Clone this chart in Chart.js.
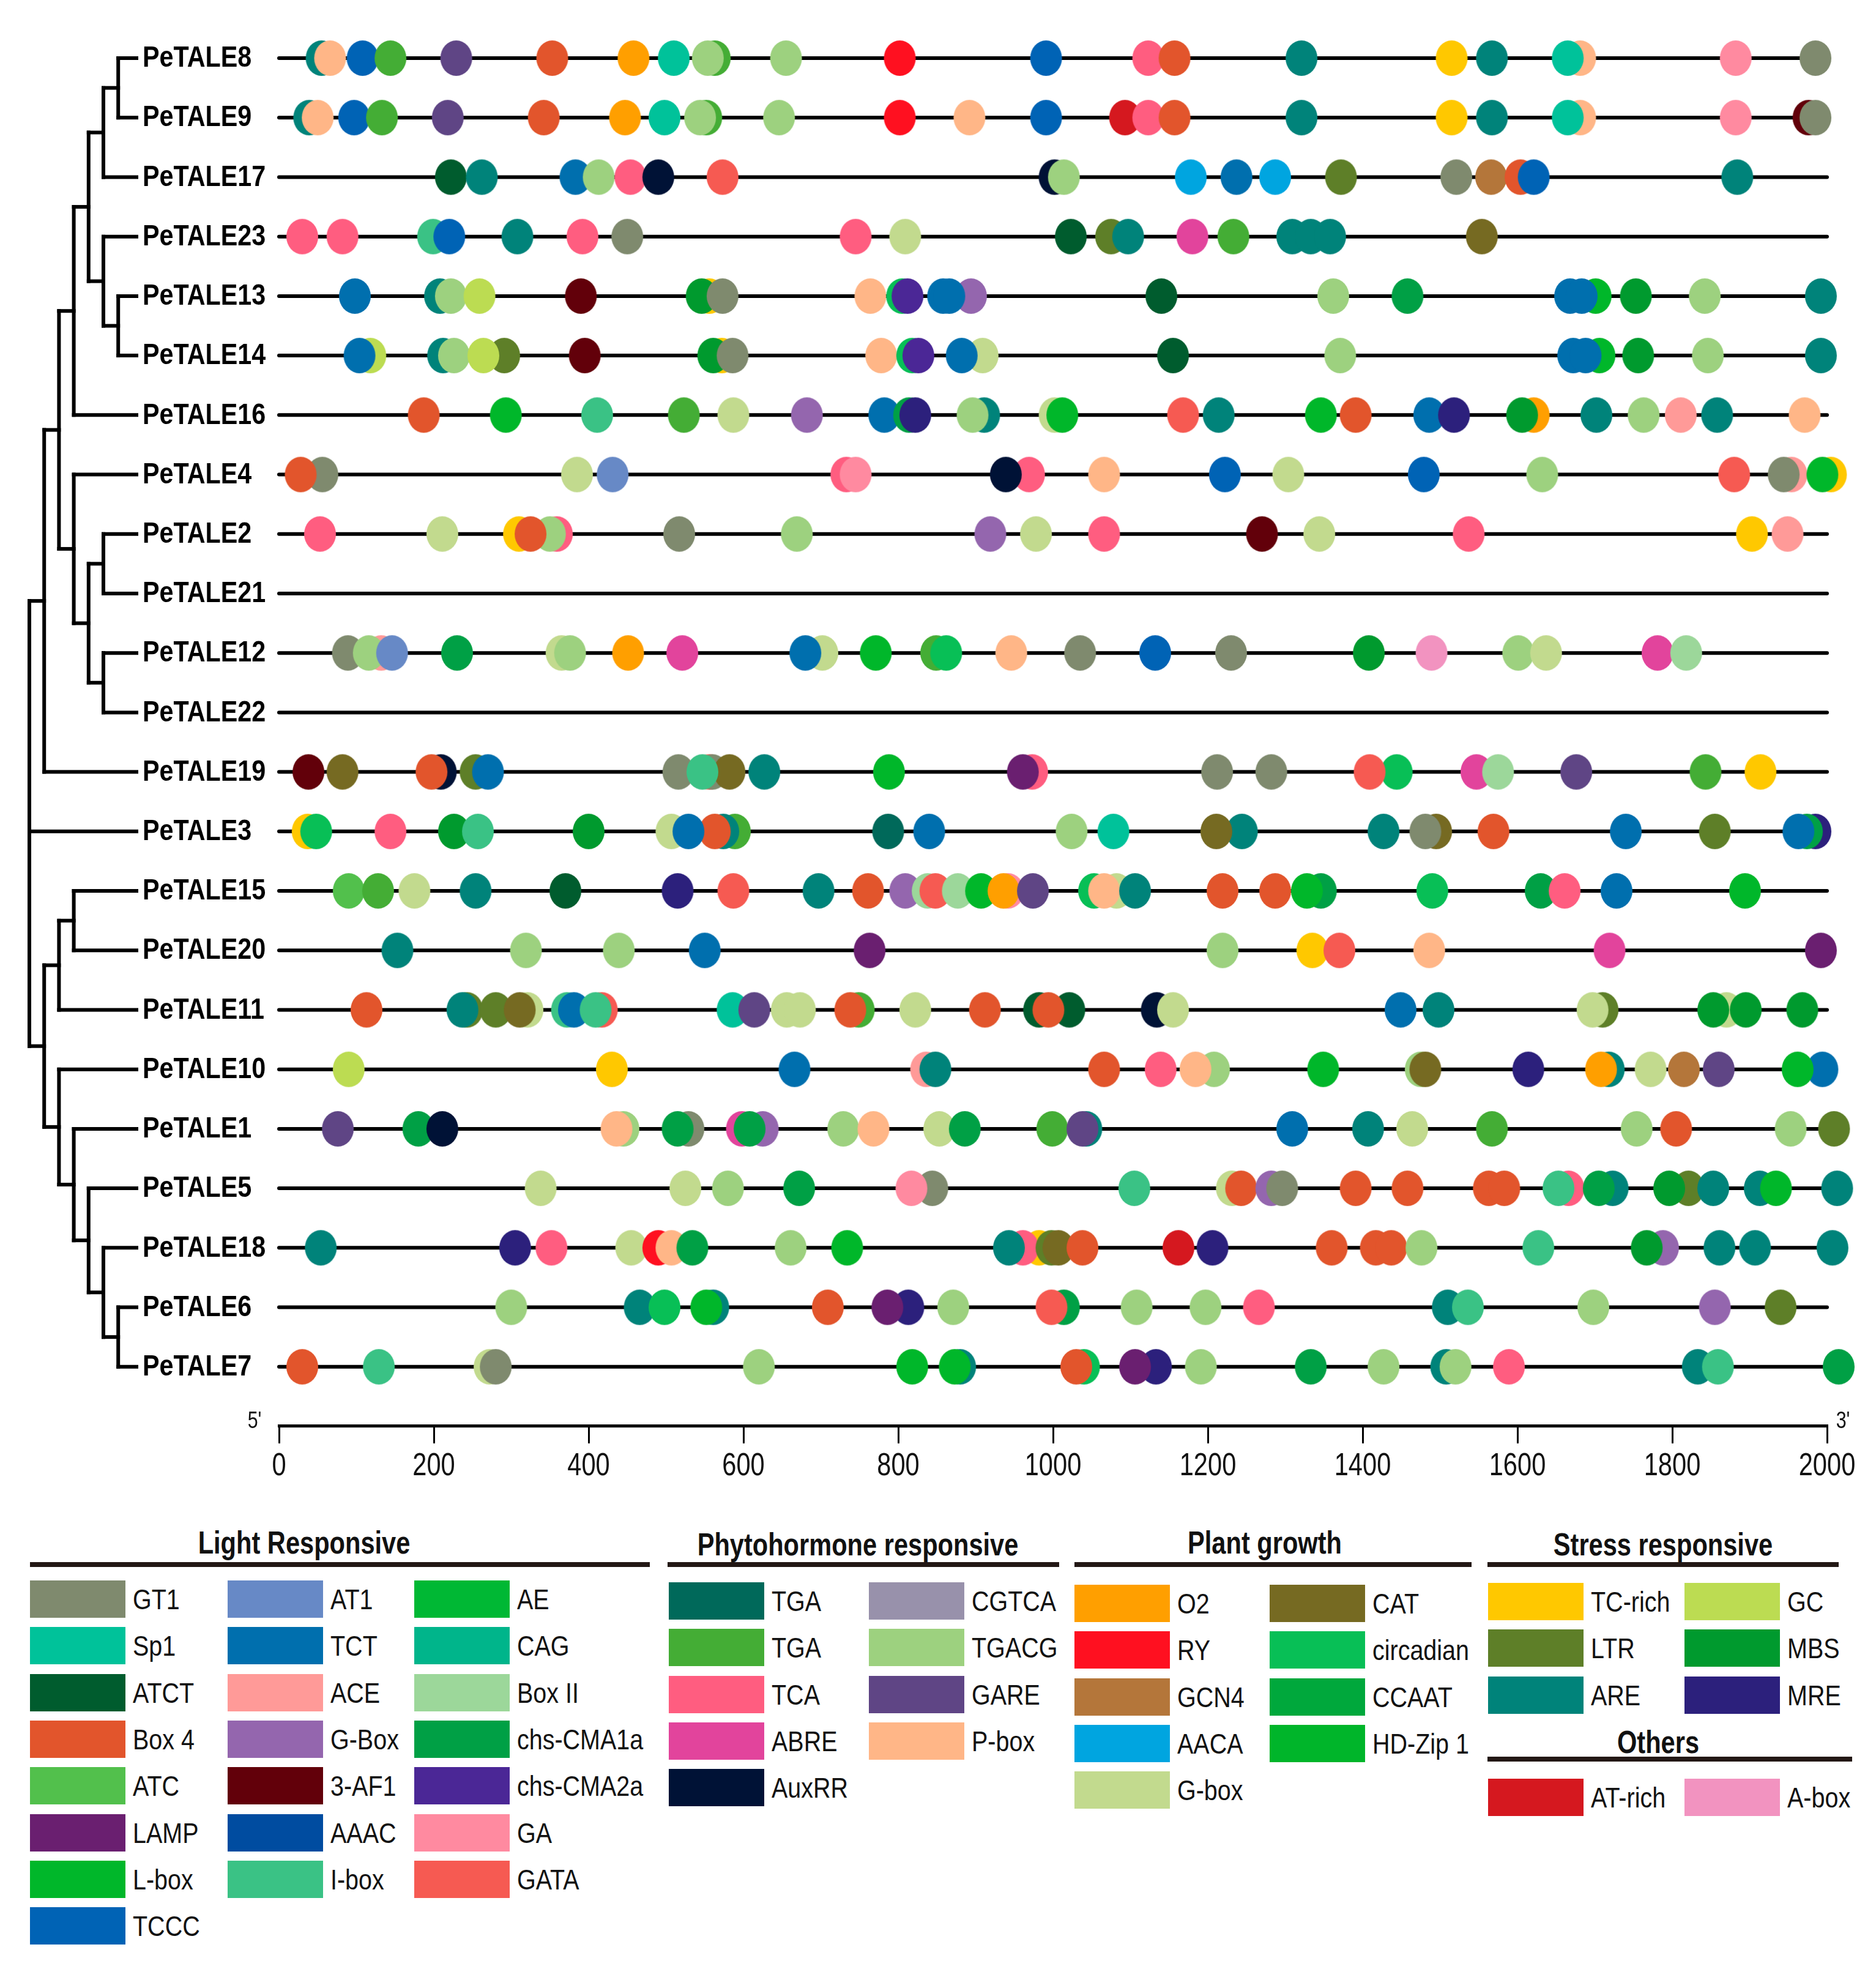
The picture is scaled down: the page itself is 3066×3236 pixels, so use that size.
<!DOCTYPE html>
<html>
<head>
<meta charset="utf-8">
<script src="https://cdn.jsdelivr.net/npm/chart.js@4.4.1/dist/chart.umd.min.js"></script>
<style>
  html, body { margin: 0; padding: 0; background: #fff; }
  #page { position: relative; width: 3066px; height: 3236px; overflow: hidden;
          font-family: "Liberation Sans", Arial, sans-serif; color: #111; }
  #c { position: absolute; left: 0; top: 0; }
  .hd { position: absolute; font-weight: bold; font-size: 52px; transform: translate(-50%, -50%) scaleX(0.8); white-space: nowrap; }
  .rule { position: absolute; height: 8px; background: #231815; }
  .sw { position: absolute; width: 156px; height: 61px; }
  .lb { position: absolute; font-size: 47px; line-height: 61px; white-space: nowrap; transform: scaleX(0.84); transform-origin: 0 50%; }
</style>
</head>
<body>
<div id="page">
  <canvas id="c" width="3066" height="2450"></canvas>
  <div id="legend"></div>
</div>
<script>
// genes, top to bottom
const geneOrder = ["PeTALE8", "PeTALE9", "PeTALE17", "PeTALE23", "PeTALE13", "PeTALE14", "PeTALE16",
  "PeTALE4", "PeTALE2", "PeTALE21", "PeTALE12", "PeTALE22", "PeTALE19", "PeTALE3", "PeTALE15",
  "PeTALE20", "PeTALE11", "PeTALE10", "PeTALE1", "PeTALE5", "PeTALE18", "PeTALE6", "PeTALE7"];

// clustering tree (nested groups of genes)
const tree = [
  [[[[[["PeTALE8", "PeTALE9"], "PeTALE17"], ["PeTALE23", ["PeTALE13", "PeTALE14"]]], "PeTALE16"],
    ["PeTALE4", [["PeTALE2", "PeTALE21"], ["PeTALE12", "PeTALE22"]]]], "PeTALE19"],
  "PeTALE3",
  [[["PeTALE15", "PeTALE20"], "PeTALE11"],
   ["PeTALE10", ["PeTALE1", ["PeTALE5", ["PeTALE18", ["PeTALE6", "PeTALE7"]]]]]]
];

// cis-element types and colours
const typeIds = ["GT1", "Sp1", "ATCT", "Box 4", "ATC", "LAMP", "L-box", "TCCC", "AT1", "TCT", "ACE", "G-Box",
  "3-AF1", "AAAC", "I-box", "AE", "CAG", "Box II", "chs-CMA1a", "chs-CMA2a", "GA", "GATA",
  "TGA", "TGA2", "TCA", "ABRE", "AuxRR", "CGTCA", "TGACG", "GARE", "P-box",
  "O2", "RY", "GCN4", "AACA", "G-box", "CAT", "circadian", "CCAAT", "HD-Zip 1",
  "TC-rich", "LTR", "ARE", "GC", "MBS", "MRE", "AT-rich", "A-box"];
const typeColors = ["#7f8a6e", "#00c29a", "#005c2e", "#e2552c", "#52c04c", "#6a1f70", "#00b72a", "#0063b5",
  "#6789c6", "#006fae", "#ff9a98", "#9466ae", "#62000a", "#004ca0", "#3ac285", "#00b834", "#00b58b",
  "#9cd79a", "#00a045", "#4b2796", "#ff8aa0", "#f65a52",
  "#00695a", "#44ad35", "#ff5d80", "#e2449c", "#001236", "#9891ab", "#9dd17f", "#5f4585", "#ffb687",
  "#ff9f00", "#ff1020", "#b4763a", "#00a5e0", "#c2da8e", "#766a22", "#08bf56", "#00a83c", "#00b52a",
  "#ffc800", "#5e7f28", "#00837a", "#bcdc52", "#009a2e", "#2c207c", "#d5181f", "#f293c0"];

// legend columns per group
const lightCols = [["GT1", "Sp1", "ATCT", "Box 4", "ATC", "LAMP", "L-box", "TCCC"],
  ["AT1", "TCT", "ACE", "G-Box", "3-AF1", "AAAC", "I-box"],
  ["AE", "CAG", "Box II", "chs-CMA1a", "chs-CMA2a", "GA", "GATA"]];
const phytoCols = [["TGA", "TGA2", "TCA", "ABRE", "AuxRR"], ["CGTCA", "TGACG", "GARE", "P-box"]];
const plantCols = [["O2", "RY", "GCN4", "AACA", "G-box"], ["CAT", "circadian", "CCAAT", "HD-Zip 1"]];
const stressCols = [["TC-rich", "LTR", "ARE"], ["GC", "MBS", "MRE"]];
const otherCols = [["AT-rich"], ["A-box"]];

// sites per gene: [position (bp), element], in drawing order
const s8 = [[55,"ARE"],[66,"P-box"],[108,"TCCC"],[144,"TGA2"],[229,"GARE"],[353,"Box 4"],[458,"O2"],[510,"Sp1"],
  [563,"TGA2"],[554,"TGACG"],[655,"TGACG"],[802,"RY"],[991,"TCCC"],[1123,"TCA"],[1157,"Box 4"],[1321,"ARE"],
  [1515,"TC-rich"],[1567,"ARE"],[1681,"P-box"],[1665,"Sp1"],[1882,"GA"],[1985,"GT1"]];
const s9 = [[39,"ARE"],[50,"P-box"],[97,"TCCC"],[133,"TGA2"],[218,"GARE"],[342,"Box 4"],[447,"O2"],[498,"Sp1"],
  [552,"TGA2"],[544,"TGACG"],[646,"TGACG"],[802,"RY"],[892,"P-box"],[991,"TCCC"],[1093,"AT-rich"],[1123,"TCA"],
  [1157,"Box 4"],[1321,"ARE"],[1515,"TC-rich"],[1567,"ARE"],[1681,"P-box"],[1665,"Sp1"],[1882,"GA"],
  [1976,"3-AF1"],[1985,"GT1"]];
const s17 = [[222,"ATCT"],[262,"ARE"],[383,"TCT"],[413,"TGACG"],[454,"TCA"],[490,"AuxRR"],[573,"GATA"],
  [1002,"AuxRR"],[1014,"TGACG"],[1178,"AACA"],[1237,"TCT"],[1287,"AACA"],[1372,"LTR"],[1521,"GT1"],
  [1566,"GCN4"],[1604,"Box 4"],[1621,"TCCC"],[1884,"ARE"]];
const s23 = [[30,"TCA"],[82,"TCA"],[199,"I-box"],[220,"TCCC"],[308,"ARE"],[392,"TCA"],[450,"GT1"],[745,"TCA"],
  [809,"G-box"],[1023,"ATCT"],[1075,"LTR"],[1097,"ARE"],[1180,"ABRE"],[1233,"TGA2"],[1309,"ARE"],[1333,"ARE"],
  [1358,"ARE"],[1554,"CAT"]];
const s13 = [[98,"TCT"],[208,"ARE"],[222,"TGACG"],[259,"GC"],[390,"3-AF1"],[556,"TC-rich"],[546,"MBS"],[573,"GT1"],
  [764,"P-box"],[805,"circadian"],[812,"chs-CMA2a"],[894,"G-Box"],[858,"TCT"],[866,"TCT"],[1140,"ATCT"],
  [1362,"TGACG"],[1458,"chs-CMA1a"],[1701,"L-box"],[1668,"TCT"],[1683,"TCT"],[1753,"MBS"],[1842,"TGACG"],
  [1992,"ARE"]];
const s14 = [[118,"GC"],[104,"TCT"],[212,"ARE"],[226,"TGACG"],[291,"LTR"],[264,"GC"],[395,"3-AF1"],[572,"TC-rich"],
  [561,"MBS"],[586,"GT1"],[778,"P-box"],[818,"circadian"],[826,"chs-CMA2a"],[909,"G-box"],[882,"TCT"],
  [1155,"ATCT"],[1371,"TGACG"],[1706,"L-box"],[1672,"TCT"],[1688,"TCT"],[1756,"MBS"],[1846,"TGACG"],[1992,"ARE"]];
const s16 = [[187,"Box 4"],[293,"L-box"],[411,"I-box"],[523,"TGA2"],[587,"G-box"],[682,"G-Box"],[782,"TCT"],
  [814,"chs-CMA1a"],[822,"MRE"],[911,"ARE"],[896,"TGACG"],[1002,"G-box"],[1012,"L-box"],[1168,"GATA"],
  [1214,"ARE"],[1346,"L-box"],[1391,"Box 4"],[1486,"TCT"],[1518,"MRE"],[1621,"O2"],[1606,"MBS"],[1702,"ARE"],
  [1763,"TGACG"],[1811,"ACE"],[1858,"ARE"],[1971,"P-box"]];
const s4 = [[56,"GT1"],[28,"Box 4"],[385,"G-box"],[431,"AT1"],[733,"TCA"],[745,"GA"],[969,"TCA"],[939,"AuxRR"],
  [1066,"P-box"],[1222,"TCCC"],[1304,"G-box"],[1479,"TCCC"],[1632,"TGACG"],[1880,"GATA"],[1954,"ACE"],
  [1944,"GT1"],[2005,"TC-rich"],[1994,"L-box"]];
const s2 = [[53,"TCA"],[211,"G-box"],[359,"TCA"],[350,"TGACG"],[310,"TC-rich"],[325,"Box 4"],[517,"GT1"],
  [669,"TGACG"],[919,"G-Box"],[978,"G-box"],[1066,"TCA"],[1270,"3-AF1"],[1344,"G-box"],[1537,"TCA"],
  [1903,"TC-rich"],[1949,"ACE"]];
const s21 = [];
const s12 = [[89,"GT1"],[132,"ACE"],[116,"TGACG"],[146,"AT1"],[230,"chs-CMA1a"],[365,"G-box"],[376,"TGACG"],
  [451,"O2"],[521,"ABRE"],[702,"G-box"],[680,"TCT"],[771,"L-box"],[849,"TGA2"],[862,"circadian"],[946,"P-box"],
  [1035,"GT1"],[1132,"TCCC"],[1230,"GT1"],[1408,"MBS"],[1489,"A-box"],[1601,"TGACG"],[1637,"G-box"],
  [1781,"ABRE"],[1818,"Box II"]];
const s22 = [];
const s19 = [[38,"3-AF1"],[82,"CAT"],[209,"AuxRR"],[197,"Box 4"],[254,"LTR"],[270,"TCT"],[516,"GT1"],[556,"GATA"],
  [560,"GT1"],[582,"CAT"],[547,"I-box"],[627,"ARE"],[788,"L-box"],[973,"TCA"],[961,"LAMP"],[1212,"GT1"],
  [1282,"GT1"],[1444,"circadian"],[1409,"GATA"],[1547,"ABRE"],[1575,"Box II"],[1676,"GARE"],[1843,"TGA2"],
  [1914,"TC-rich"]];
const s3 = [[37,"TC-rich"],[48,"circadian"],[144,"TCA"],[226,"MBS"],[257,"I-box"],[400,"MBS"],[507,"G-box"],
  [589,"TGA2"],[574,"ARE"],[563,"Box 4"],[529,"TCT"],[787,"TGA"],[840,"TCT"],[1024,"TGACG"],[1078,"Sp1"],
  [1244,"ARE"],[1211,"CAT"],[1427,"ARE"],[1495,"CAT"],[1481,"GT1"],[1569,"Box 4"],[1740,"TCT"],[1855,"LTR"],
  [1985,"MRE"],[1974,"chs-CMA1a"],[1963,"TCT"]];
const s15 = [[90,"ATC"],[128,"TGA2"],[175,"G-box"],[254,"ARE"],[370,"ATCT"],[515,"MRE"],[587,"GATA"],[697,"ARE"],
  [761,"Box 4"],[809,"G-Box"],[838,"Box II"],[848,"GATA"],[877,"Box II"],[907,"L-box"],[942,"GA"],[936,"O2"],
  [974,"GARE"],[1053,"circadian"],[1082,"G-box"],[1066,"P-box"],[1106,"ARE"],[1219,"Box 4"],[1287,"Box 4"],
  [1346,"chs-CMA1a"],[1328,"L-box"],[1490,"circadian"],[1630,"chs-CMA1a"],[1661,"TCA"],[1728,"TCT"],
  [1894,"L-box"]];
const s20 = [[153,"ARE"],[319,"TGACG"],[439,"TGACG"],[550,"TCT"],[763,"LAMP"],[1219,"TGACG"],[1335,"TC-rich"],
  [1370,"GATA"],[1486,"P-box"],[1719,"ABRE"],[1992,"LAMP"]];
const s11 = [[113,"Box 4"],[243,"LTR"],[237,"ARE"],[280,"LTR"],[321,"G-box"],[311,"CAT"],[372,"I-box"],[381,"TCT"],
  [417,"GATA"],[409,"I-box"],[586,"Sp1"],[614,"GARE"],[656,"G-box"],[673,"G-box"],[749,"TGA2"],[738,"Box 4"],
  [822,"G-box"],[912,"Box 4"],[982,"ATCT"],[1021,"ATCT"],[994,"Box 4"],[1134,"AuxRR"],[1155,"G-box"],
  [1449,"TCT"],[1498,"ARE"],[1710,"LTR"],[1697,"G-box"],[1870,"G-box"],[1853,"MBS"],[1895,"MBS"],[1968,"MBS"]];
const s10 = [[90,"GC"],[430,"TC-rich"],[666,"TCT"],[836,"ACE"],[848,"ARE"],[1066,"Box 4"],[1139,"TCA"],
  [1208,"TGACG"],[1184,"P-box"],[1349,"L-box"],[1475,"TGACG"],[1481,"CAT"],[1614,"MRE"],[1718,"ARE"],
  [1708,"O2"],[1772,"G-box"],[1815,"GCN4"],[1860,"GARE"],[1994,"TCT"],[1962,"L-box"]];
const s1 = [[76,"GARE"],[180,"chs-CMA1a"],[211,"AuxRR"],[445,"TGACG"],[436,"P-box"],[529,"GT1"],[515,"chs-CMA1a"],
  [598,"ABRE"],[625,"G-Box"],[608,"chs-CMA1a"],[729,"TGACG"],[768,"P-box"],[853,"G-box"],[886,"chs-CMA1a"],
  [999,"TGA2"],[1043,"ARE"],[1038,"GARE"],[1309,"TCT"],[1407,"ARE"],[1464,"G-box"],[1567,"TGA2"],
  [1754,"TGACG"],[1805,"Box 4"],[1953,"TGACG"],[2009,"LTR"]];
const s5 = [[338,"G-box"],[525,"G-box"],[580,"TGACG"],[672,"chs-CMA1a"],[844,"GT1"],[817,"GA"],[1105,"I-box"],
  [1231,"G-box"],[1243,"Box 4"],[1282,"G-Box"],[1296,"GT1"],[1391,"Box 4"],[1458,"Box 4"],[1563,"Box 4"],
  [1583,"Box 4"],[1666,"TCA"],[1653,"I-box"],[1723,"ARE"],[1705,"chs-CMA1a"],[1821,"LTR"],[1796,"MBS"],
  [1853,"ARE"],[1913,"ARE"],[1934,"L-box"],[2013,"ARE"]];
const s18 = [[54,"ARE"],[305,"MRE"],[352,"TCA"],[455,"G-box"],[490,"RY"],[507,"P-box"],[534,"chs-CMA1a"],
  [661,"TGACG"],[734,"L-box"],[982,"TC-rich"],[961,"TCA"],[943,"ARE"],[998,"LTR"],[1007,"CAT"],[1038,"Box 4"],
  [1162,"AT-rich"],[1206,"MRE"],[1360,"Box 4"],[1417,"Box 4"],[1437,"Box 4"],[1476,"TGACG"],[1627,"I-box"],
  [1788,"G-Box"],[1767,"MBS"],[1861,"ARE"],[1907,"ARE"],[2007,"ARE"]];
const s6 = [[300,"TGACG"],[466,"ARE"],[498,"circadian"],[561,"ARE"],[552,"L-box"],[709,"Box 4"],[813,"MRE"],
  [786,"LAMP"],[871,"TGACG"],[1014,"chs-CMA1a"],[998,"GATA"],[1108,"TGACG"],[1197,"TGACG"],[1266,"TCA"],
  [1510,"ARE"],[1536,"I-box"],[1698,"TGACG"],[1855,"G-Box"],[1940,"LTR"]];
const s7 = [[30,"Box 4"],[129,"I-box"],[272,"G-box"],[280,"GT1"],[620,"TGACG"],[818,"L-box"],[880,"ARE"],
  [873,"L-box"],[1040,"circadian"],[1030,"Box 4"],[1133,"MRE"],[1106,"LAMP"],[1191,"TGACG"],[1333,"chs-CMA1a"],
  [1427,"TGACG"],[1508,"ARE"],[1520,"TGACG"],[1589,"TCA"],[1833,"ARE"],[1859,"I-box"],[2015,"chs-CMA1a"]];

const geneSites = [s8, s9, s17, s23, s13, s14, s16, s4, s2, s21, s12, s22, s19, s3, s15,
  s20, s11, s10, s1, s5, s18, s6, s7];

const xTicks = [0, 200, 400, 600, 800, 1000, 1200, 1400, 1600, 1800, 2000];

const FONT = '"Liberation Sans", Arial, sans-serif';
const colorOf = {};
typeIds.forEach((t, i) => { colorOf[t] = typeColors[i]; });
const labelOf = id => (id === "TGA2" ? "TGA" : id);

// elliptical marker per element type
const marker = {};
typeIds.forEach(t => {
  const cv = document.createElement("canvas");
  cv.width = 54; cv.height = 60;
  const g = cv.getContext("2d");
  g.fillStyle = colorOf[t];
  g.beginPath();
  g.ellipse(27, 30, 26, 29, 0, 0, Math.PI * 2);
  g.fill();
  marker[t] = cv;
});

const datasets = [];
geneOrder.forEach((gene, i) => {
  datasets.push({
    label: gene + " sites",
    data: geneSites[i].map(s => ({ x: s[0], y: i })),
    pointStyle: geneSites[i].map(s => marker[s[1]]),
    pointRadius: 27,
    pointBorderWidth: 0,
    showLine: false,
    clip: false,
    order: 0,
  });
  datasets.push({
    label: gene,
    data: [{ x: 0, y: i }, { x: 2000, y: i }],
    showLine: true,
    borderColor: "#000",
    borderWidth: 6,
    borderCapStyle: "round",
    pointRadius: 0,
    clip: false,
    order: 1,
  });
});

const LEAF_X = 223;
const nodeX = d => 48 + d * 24.2;

// condensed text, like the narrow face of the original
const narrowText = (ctx, str, x, y, font, sx, align) => {
  ctx.save();
  ctx.font = font;
  ctx.textAlign = align;
  ctx.textBaseline = "middle";
  ctx.translate(x, y);
  ctx.scale(sx, 1);
  ctx.fillText(str, 0, 0);
  ctx.restore();
};

const decorations = {
  id: "decorations",
  afterDraw(chart) {
    const ctx = chart.ctx;
    const y = chart.scales.y;
    const xs = chart.scales.x;
    const yOf = g => y.getPixelForValue(geneOrder.indexOf(g));
    ctx.save();
    ctx.strokeStyle = "#000";
    ctx.lineWidth = 6;
    ctx.lineCap = "square";
    const seg = (x1, y1, x2, y2) => { ctx.beginPath(); ctx.moveTo(x1, y1); ctx.lineTo(x2, y2); ctx.stroke(); };
    const walk = (node, depth) => {
      const ys = node.map(ch => {
        if (typeof ch === "string") {
          const cy = yOf(ch);
          seg(nodeX(depth), cy, LEAF_X, cy);
          return cy;
        }
        const cy = walk(ch, depth + 1);
        seg(nodeX(depth), cy, nodeX(depth + 1), cy);
        return cy;
      });
      seg(nodeX(depth), ys[0], nodeX(depth), ys[ys.length - 1]);
      return (ys[0] + ys[ys.length - 1]) / 2;
    };
    walk(tree, 0);

    ctx.fillStyle = "#000";
    // gene names
    geneOrder.forEach((g, i) => {
      narrowText(ctx, g, 233, y.getPixelForValue(i) + 1, "bold 48px " + FONT, 0.86, "left");
    });
    // x tick labels
    ctx.fillStyle = "#111";
    xs.ticks.forEach(t => {
      narrowText(ctx, String(t.value), xs.getPixelForValue(t.value), 2397, "52px " + FONT, 0.8, "center");
    });
    // 5' / 3' marks at the axis ends
    narrowText(ctx, "5'", xs.getPixelForValue(0) - 40, chart.chartArea.bottom - 6, "38px " + FONT, 0.8, "center");
    narrowText(ctx, "3'", xs.getPixelForValue(2000) + 26, chart.chartArea.bottom - 6, "38px " + FONT, 0.8, "center");
    ctx.restore();
  },
};

new Chart(document.getElementById("c"), {
  type: "scatter",
  data: { datasets },
  options: {
    responsive: false,
    animation: false,
    devicePixelRatio: 1,
    layout: { padding: { left: 233, right: 80, top: 40, bottom: 0 } },
    plugins: { legend: { display: false }, tooltip: { enabled: false } },
    events: [],
    scales: {
      x: {
        type: "linear",
        min: 0,
        max: 2000,
        afterFit: s => { s.height = 120; },
        afterBuildTicks: s => { s.ticks = xTicks.map(v => ({ value: v })); },
        border: { display: true, color: "#000", width: 5 },
        grid: { drawOnChartArea: false, drawTicks: true, tickLength: 29, lineWidth: 3, color: "#000" },
        ticks: { display: false },
      },
      y: {
        type: "linear",
        reverse: true,
        min: -0.566,
        max: 22.99,
        afterFit: s => { s.width = 223; },
        afterBuildTicks: s => { s.ticks = geneOrder.map((g, i) => ({ value: i })); },
        border: { display: false },
        grid: { display: false },
        ticks: { display: false },
      },
    },
  },
  plugins: [decorations],
});

// legend
const groups = [
  { title: "Light Responsive", cols: lightCols, colX: [49, 372, 677], top: 2583, headX: 497, headY: 2521, rule: [49, 1062, 2553] },
  { title: "Phytohormone responsive", cols: phytoCols, colX: [1093, 1420], top: 2586, headX: 1402, headY: 2524, rule: [1091, 1731, 2553] },
  { title: "Plant growth", cols: plantCols, colX: [1756, 2075], top: 2590, headX: 2067, headY: 2521, rule: [1756, 2405, 2553] },
  { title: "Stress responsive", cols: stressCols, colX: [2432, 2753], top: 2587, headX: 2718, headY: 2524, rule: [2431, 3005, 2553] },
  { title: "Others", cols: otherCols, colX: [2432, 2753], top: 2907, headX: 2710, headY: 2847, rule: [2431, 3027, 2871] },
];
const leg = document.getElementById("legend");
let html = "";
groups.forEach(g => {
  html += `<div class="hd" style="left:${g.headX}px;top:${g.headY}px">${g.title}</div>`;
  html += `<div class="rule" style="left:${g.rule[0]}px;top:${g.rule[2]}px;width:${g.rule[1] - g.rule[0]}px"></div>`;
  g.cols.forEach((col, c) => {
    col.forEach((id, r) => {
      const top = g.top + r * 76.3;
      html += `<div class="sw" style="left:${g.colX[c]}px;top:${top}px;background:${colorOf[id]}"></div>`;
      html += `<div class="lb" style="left:${g.colX[c] + 168}px;top:${top}px">${labelOf(id)}</div>`;
    });
  });
});
leg.innerHTML = html;
</script>
</body>
</html>
